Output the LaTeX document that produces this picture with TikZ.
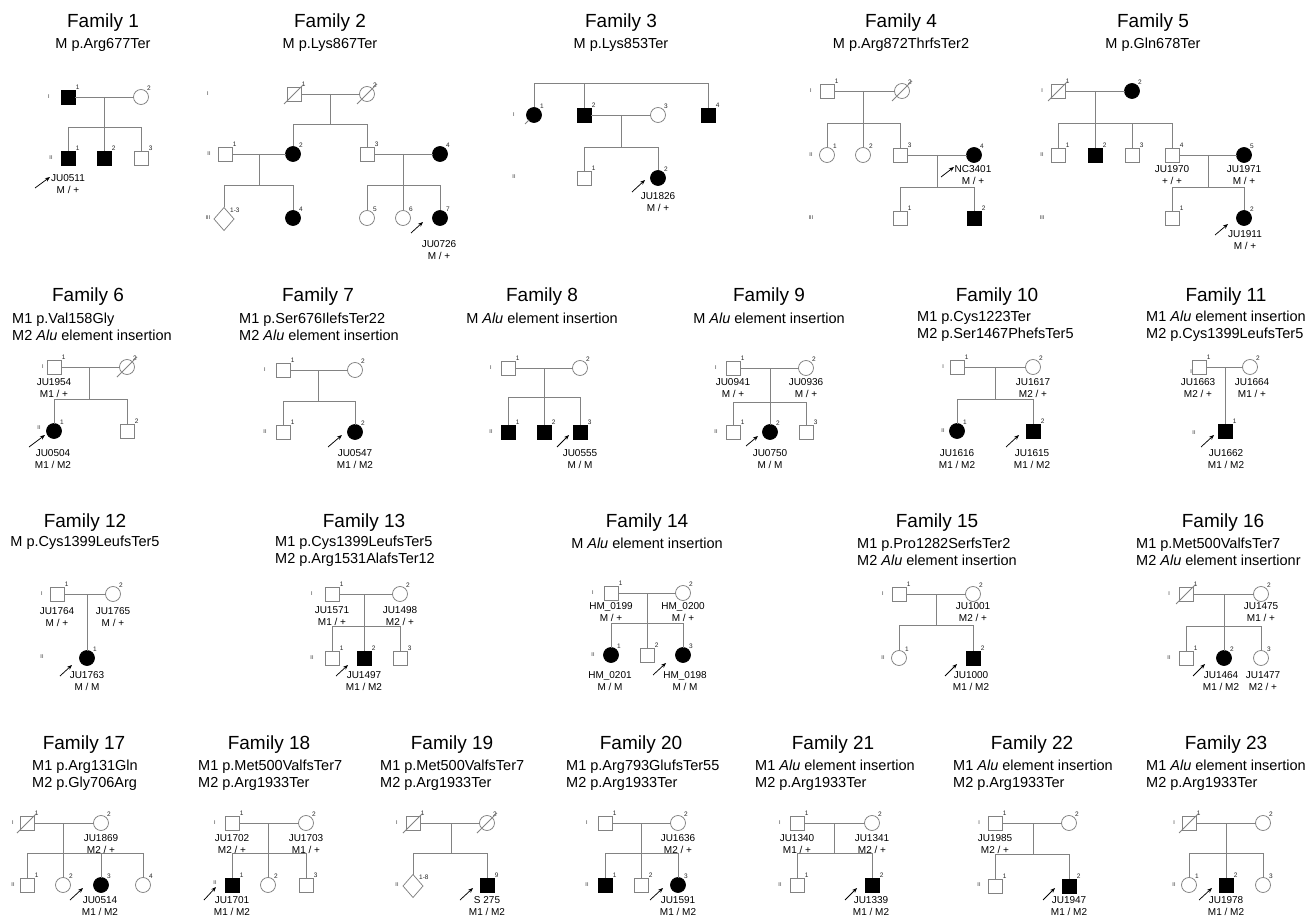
\documentclass[tikz,border=0pt]{standalone}
\usepackage{fontspec}
\setmainfont{Liberation Sans}
\usetikzlibrary{shapes.geometric,arrows.meta}
\definecolor{lc}{RGB}{130,130,130}
\newcommand{\deceased}[1]{\draw[ln] (#1.center) ++(-10,10) -- ++(20,-20);}
\tikzset{
  ln/.style={draw=lc, line width=0.75pt},
  base/.style={line width=0.75pt, inner sep=0pt, outer sep=0pt},
  so/.style={base, rectangle, draw=lc, fill=white, minimum size=14pt},
  sf/.style={base, rectangle, draw=black, fill=black, minimum size=14pt},
  co/.style={base, circle, draw=lc, fill=white, minimum size=15pt},
  cf/.style={base, circle, draw=black, fill=black, minimum size=15pt},
  dm/.style={base, diamond, draw=lc, fill=white, minimum width=20pt, minimum height=23pt},
  nl/.style={font=\fontsize{6.5}{7}\selectfont, inner sep=0.6pt, text=black!85},
  nb/.style={label={[nl]above right:#1}},
  gl/.style={font=\fontsize{5.5}{6}\selectfont, inner sep=0pt, text=black!80},
  ttl/.style={font=\fontsize{19}{21}\selectfont, inner sep=0pt},
  sub/.style={font=\fontsize{14.5}{17}\selectfont, inner sep=0pt},
  subl/.style={sub, align=left, anchor=west},
  idt/.style={font=\fontsize{10}{12}\selectfont, align=center, inner sep=0pt},
  prb/.style={draw=black, line width=0.75pt, -{Stealth[length=5pt,width=4pt]}},
}
\begin{document}
\begin{tikzpicture}[x=1pt,y=-1pt]
\fill[white] (0,0) rectangle (1316,917);
\useasboundingbox (0,0) rectangle (1316,917);

% ================= Family 1
\node[ttl] (t1) at (103,23) {Family 1};
\node[sub] (s1) at (103,45) {M p.Arg677Ter};
\node[gl] (g1a) at (49,97) {I};
\node[gl] (g1b) at (51,158) {II};
\node[sf,nb=1] (p1a) at (68,97) {};
\node[co,nb=2] (p1b) at (141,97) {};
\coordinate (m1) at (104,97); \coordinate (k1) at (104,127);
\node[sf,nb=1] (p1c) at (68,158) {};
\node[sf,nb=2] (p1d) at (104,158) {};
\node[so,nb=3] (p1e) at (141,158) {};
\draw[ln] (p1a) -- (p1b);
\draw[ln] (m1) -- (k1);
\draw[ln] (p1c) -- (p1c |- k1) -- (p1e |- k1) -- (p1e);
\draw[ln] (p1d) -- (k1);
\coordinate (a1s) at (35,188); \coordinate (a1e) at (50,177);
\draw[prb] (a1s) -- (a1e);
\node[idt] (i1) at (68,184) {JU0511\\M / +};

% ================= Family 2
\node[ttl] (t2) at (330,23) {Family 2};
\node[sub] (s2) at (330,45) {M p.Lys867Ter};
\node[gl] (g2a) at (208,94) {I};
\node[gl] (g2b) at (209,154) {II};
\node[gl] (g2c) at (208,218) {III};
\node[so,nb=1] (p2a) at (294,94) {};
\node[co,nb=2] (p2b) at (367,94) {};
\coordinate (m2a) at (330,94); \coordinate (k2a) at (330,124);
\node[so,nb=1] (p2c) at (225,154) {};
\node[cf,nb=2] (p2d) at (293,154) {};
\node[so,nb=3] (p2e) at (367,154) {};
\node[cf,nb=4] (p2f) at (440,154) {};
\coordinate (m2b) at (259,154); \coordinate (k2b) at (259,185);
\coordinate (m2c) at (403,154); \coordinate (k2c) at (403,185);
\node[dm,nb=1-3] (p2g) at (224,219) {};
\node[cf,nb=4] (p2h) at (293,218) {};
\node[co,nb=5] (p2i) at (367,218) {};
\node[co,nb=6] (p2j) at (403,218) {};
\node[cf,nb=7] (p2k) at (440,218) {};
\draw[ln] (p2a) -- (p2b);
\draw[ln] (m2a) -- (k2a);
\draw[ln] (p2d) -- (p2d |- k2a) -- (p2e |- k2a) -- (p2e);
\draw[ln] (p2c) -- (p2d);
\draw[ln] (m2b) -- (k2b);
\draw[ln] (p2g) -- (p2g |- k2b) -- (p2h |- k2b) -- (p2h);
\draw[ln] (p2e) -- (p2f);
\draw[ln] (m2c) -- (k2c);
\draw[ln] (p2i) -- (p2i |- k2c) -- (p2k |- k2c) -- (p2k);
\draw[ln] (p2j) -- (k2c);
\deceased{p2a}
\deceased{p2b}
\coordinate (a2s) at (411,233); \coordinate (a2e) at (423,222);
\draw[prb] (a2s) -- (a2e);
\node[idt] (i2) at (439,250) {JU0726\\M / +};

% ================= Family 3
\node[ttl] (t3) at (621,23) {Family 3};
\node[sub] (s3) at (621,45) {M p.Lys853Ter};
\node[gl] (g3a) at (514,115) {I};
\node[gl] (g3b) at (514,177) {II};
\node[cf,nb=1] (p3a) at (534,115) {};
\node[sf,nb=2] (p3b) at (584,115) {};
\node[co,nb=3] (p3c) at (658,115) {};
\node[sf,nb=4] (p3d) at (708,115) {};
\coordinate (k3) at (584,83);
\coordinate (m3) at (621,115); \coordinate (k3b) at (621,147);
\node[so,nb=1] (p3e) at (584,178) {};
\node[cf,nb=2] (p3f) at (658,178) {};
\draw[ln] (p3a) -- (p3a |- k3) -- (p3d |- k3) -- (p3d);
\draw[ln] (p3b) -- (k3);
\draw[ln] (p3b) -- (p3c);
\draw[ln] (m3) -- (k3b);
\draw[ln] (p3e) -- (p3e |- k3b) -- (p3f |- k3b) -- (p3f);
\draw[ln] (p3a.center) ++(-9,9) -- ++(4,-4);
\coordinate (a3s) at (632,192); \coordinate (a3e) at (645,180);
\draw[prb] (a3s) -- (a3e);
\node[idt] (i3) at (658,202) {JU1826\\M / +};

% ================= Family 4
\node[ttl] (t4) at (901,23) {Family 4};
\node[sub] (s4) at (901,45) {M p.Arg872ThrfsTer2};
\node[gl] (g4a) at (811,91) {I};
\node[gl] (g4b) at (811,155) {II};
\node[gl] (g4c) at (811,218) {III};
\node[so,nb=1] (p4a) at (827,91) {};
\node[co,nb=2] (p4b) at (902,91) {};
\coordinate (m4a) at (863,91); \coordinate (k4a) at (863,123);
\node[co,nb=1] (p4c) at (827,155) {};
\node[co,nb=2] (p4d) at (863,155) {};
\node[so,nb=3] (p4e) at (900,155) {};
\node[cf,nb=4] (p4f) at (974,155) {};
\coordinate (m4b) at (937,155); \coordinate (k4b) at (937,187);
\node[so,nb=1] (p4g) at (900,218) {};
\node[sf,nb=2] (p4h) at (974,218) {};
\draw[ln] (p4a) -- (p4b);
\draw[ln] (m4a) -- (k4a);
\draw[ln] (p4c) -- (p4c |- k4a) -- (p4e |- k4a) -- (p4e);
\draw[ln] (p4d) -- (k4a);
\draw[ln] (p4e) -- (p4f);
\draw[ln] (m4b) -- (k4b);
\draw[ln] (p4g) -- (p4g |- k4b) -- (p4h |- k4b) -- (p4h);
\deceased{p4b}
\coordinate (a4s) at (941,177); \coordinate (a4e) at (954,167);
\draw[prb] (a4s) -- (a4e);
\node[idt] (i4) at (973,175) {NC3401\\M / +};

% ================= Family 5
\node[ttl] (t5) at (1153,23) {Family 5};
\node[sub] (s5) at (1153,45) {M p.Gln678Ter};
\node[gl] (g5a) at (1042,91) {I};
\node[gl] (g5b) at (1042,155) {II};
\node[gl] (g5c) at (1042,218) {III};
\node[so,nb=1] (p5a) at (1058,91) {};
\node[cf,nb=2] (p5b) at (1132,91) {};
\coordinate (m5a) at (1095,91); \coordinate (k5a) at (1095,123);
\node[so,nb=1] (p5c) at (1058,155) {};
\node[sf,nb=2] (p5d) at (1095,155) {};
\node[so,nb=3] (p5e) at (1132,155) {};
\node[so,nb=4] (p5f) at (1172,155) {};
\node[cf,nb=5] (p5g) at (1244,155) {};
\coordinate (m5b) at (1208,155); \coordinate (k5b) at (1208,187);
\node[so,nb=1] (p5h) at (1172,218) {};
\node[cf,nb=2] (p5i) at (1244,218) {};
\draw[ln] (p5a) -- (p5b);
\draw[ln] (m5a) -- (k5a);
\draw[ln] (p5c) -- (p5c |- k5a) -- (p5f |- k5a) -- (p5f);
\draw[ln] (p5d) -- (k5a);
\draw[ln] (p5e) -- (p5e |- k5a);
\draw[ln] (p5f) -- (p5g);
\draw[ln] (m5b) -- (k5b);
\draw[ln] (p5h) -- (p5h |- k5b) -- (p5i |- k5b) -- (p5i);
\deceased{p5a}
\node[idt] (i5a) at (1172,175) {JU1970\\+ / +};
\node[idt] (i5b) at (1244,175) {JU1971\\M / +};
\coordinate (a5s) at (1215,235); \coordinate (a5e) at (1228,224);
\draw[prb] (a5s) -- (a5e);
\node[idt] (i5c) at (1245,240) {JU1911\\M / +};

% ================= Family 6
\node[ttl] (t6) at (88,297) {Family 6};
\node[subl] (s6) at (12,326.5) {M1 p.Val158Gly\\M2 \textit{Alu} element insertion};
\node[gl] (g6a) at (43,367) {I};
\node[gl] (g6b) at (39,428) {II};
\node[so,nb=1] (p6a) at (54,367) {};
\node[co,nb=2] (p6b) at (127,367) {};
\coordinate (m6) at (89,367); \coordinate (k6) at (89,399);
\node[cf,nb=1] (p6c) at (54,431) {};
\node[so,nb=2] (p6d) at (127,431) {};
\draw[ln] (p6a) -- (p6b);
\draw[ln] (m6) -- (k6);
\draw[ln] (p6c) -- (p6c |- k6) -- (p6d |- k6) -- (p6d);
\deceased{p6b}
\node[idt] (i6a) at (54,388) {JU1954\\M1 / +};
\coordinate (a6s) at (29,447); \coordinate (a6e) at (45,435);
\draw[prb] (a6s) -- (a6e);
\node[idt] (i6b) at (53,459) {JU0504\\M1 / M2};

% ================= Family 7
\node[ttl] (t7) at (318,297) {Family 7};
\node[subl] (s7) at (239,326.5) {M1 p.Ser676IlefsTer22\\M2 \textit{Alu} element insertion};
\node[gl] (g7a) at (265,370) {I};
\node[gl] (g7b) at (265,432) {II};
\node[so,nb=1] (p7a) at (283,370) {};
\node[co,nb=2] (p7b) at (355,370) {};
\coordinate (m7) at (318,370); \coordinate (k7) at (318,401);
\node[so,nb=1] (p7c) at (283,432) {};
\node[cf,nb=2] (p7d) at (355,432) {};
\draw[ln] (p7a) -- (p7b);
\draw[ln] (m7) -- (k7);
\draw[ln] (p7c) -- (p7c |- k7) -- (p7d |- k7) -- (p7d);
\coordinate (a7s) at (328,447); \coordinate (a7e) at (342,435);
\draw[prb] (a7s) -- (a7e);
\node[idt] (i7) at (355,459) {JU0547\\M1 / M2};

% ================= Family 8
\node[ttl] (t8) at (542,297) {Family 8};
\node[sub] (s8) at (542,318) {M \textit{Alu} element insertion};
\node[gl] (g8a) at (491,368) {I};
\node[gl] (g8b) at (491,432) {II};
\node[so,nb=1] (p8a) at (508,368) {};
\node[co,nb=2] (p8b) at (580,368) {};
\coordinate (m8) at (544,368); \coordinate (k8) at (544,397);
\node[sf,nb=1] (p8c) at (508,432) {};
\node[sf,nb=2] (p8d) at (544,432) {};
\node[sf,nb=3] (p8e) at (580,432) {};
\draw[ln] (p8a) -- (p8b);
\draw[ln] (m8) -- (k8);
\draw[ln] (p8c) -- (p8c |- k8) -- (p8e |- k8) -- (p8e);
\draw[ln] (p8d) -- (k8);
\coordinate (a8s) at (557,447); \coordinate (a8e) at (569,435);
\draw[prb] (a8s) -- (a8e);
\node[idt] (i8) at (580,459) {JU0555\\M / M};

% ================= Family 9
\node[ttl] (t9) at (769,297) {Family 9};
\node[sub] (s9) at (769,318) {M \textit{Alu} element insertion};
\node[gl] (g9a) at (716,368) {I};
\node[gl] (g9b) at (716,432) {II};
\node[so,nb=1] (p9a) at (733,368) {};
\node[co,nb=2] (p9b) at (806,368) {};
\coordinate (m9) at (770,368); \coordinate (k9) at (770,402);
\node[so,nb=1] (p9c) at (733,432) {};
\node[cf,nb=2] (p9d) at (770,432) {};
\node[so,nb=3] (p9e) at (806,432) {};
\draw[ln] (p9a) -- (p9b);
\draw[ln] (m9) -- (k9);
\draw[ln] (p9c) -- (p9c |- k9) -- (p9e |- k9) -- (p9e);
\draw[ln] (p9d) -- (k9);
\node[idt] (i9a) at (733,388) {JU0941\\M / +};
\node[idt] (i9b) at (806,388) {JU0936\\M / +};
\coordinate (a9s) at (746,446); \coordinate (a9e) at (758,436);
\draw[prb] (a9s) -- (a9e);
\node[idt] (i9c) at (770,459) {JU0750\\M / M};

% ================= Family 10
\node[ttl] (t10) at (997,297) {Family 10};
\node[subl] (s10) at (917,326.5) {M1 p.Cys1223Ter\\M2 p.Ser1467PhefsTer5};
\node[gl] (g10a) at (943,367) {I};
\node[gl] (g10b) at (943,431) {II};
\node[so,nb=1] (p10a) at (957,367) {};
\node[co,nb=2] (p10b) at (1033,367) {};
\coordinate (m10) at (995,367); \coordinate (k10) at (995,399);
\node[cf,nb=1] (p10c) at (957,431) {};
\node[sf,nb=2] (p10d) at (1033,431) {};
\draw[ln] (p10a) -- (p10b);
\draw[ln] (m10) -- (k10);
\draw[ln] (p10c) -- (p10c |- k10) -- (p10d |- k10) -- (p10d);
\node[idt] (i10a) at (1033,388) {JU1617\\M2 / +};
\coordinate (a10s) at (1006,447); \coordinate (a10e) at (1019,435);
\draw[prb] (a10s) -- (a10e);
\node[idt] (i10b) at (957,459) {JU1616\\M1 / M2};
\node[idt] (i10c) at (1032,459) {JU1615\\M1 / M2};

% ================= Family 11
\node[ttl] (t11) at (1226,297) {Family 11};
\node[subl] (s11) at (1146,326.5) {M1 \textit{Alu} element insertion\\M2 p.Cys1399LeufsTer5};
\node[gl] (g11a) at (1191,372) {I};
\node[gl] (g11b) at (1194,433) {II};
\node[so,nb=1] (p11a) at (1199,367) {};
\node[co,nb=2] (p11b) at (1250,367) {};
\coordinate (m11) at (1225,367);
\node[sf,nb=1] (p11c) at (1225,431) {};
\draw[ln] (p11a) -- (p11b);
\draw[ln] (m11) -- (p11c);
\node[idt] (i11a) at (1198,388) {JU1663\\M2 / +};
\node[idt] (i11b) at (1252,388) {JU1664\\M1 / +};
\coordinate (a11s) at (1201,447); \coordinate (a11e) at (1214,435);
\draw[prb] (a11s) -- (a11e);
\node[idt] (i11c) at (1226,459) {JU1662\\M1 / M2};

% ================= Family 12
\node[ttl] (t12) at (85,523) {Family 12};
\node[sub] (s12) at (85,543) {M p.Cys1399LeufsTer5};
\node[gl] (g12a) at (42,594) {I};
\node[gl] (g12b) at (42,657) {II};
\node[so,nb=1] (p12a) at (57,594) {};
\node[co,nb=2] (p12b) at (113,594) {};
\coordinate (m12) at (87,594);
\node[cf,nb=1] (p12c) at (87,658) {};
\draw[ln] (p12a) -- (p12b);
\draw[ln] (m12) -- (p12c);
\node[idt] (i12a) at (57,617) {JU1764\\M / +};
\node[idt] (i12b) at (113,617) {JU1765\\M / +};
\coordinate (a12s) at (60,676); \coordinate (a12e) at (72,665);
\draw[prb] (a12s) -- (a12e);
\node[idt] (i12c) at (87,681) {JU1763\\M / M};

% ================= Family 13
\node[ttl] (t13) at (364,523) {Family 13};
\node[subl] (s13) at (275,551.5) {M1 p.Cys1399LeufsTer5\\M2 p.Arg1531AlafsTer12};
\node[gl] (g13a) at (312,594) {I};
\node[gl] (g13b) at (312,658) {II};
\node[so,nb=1] (p13a) at (332,594) {};
\node[co,nb=2] (p13b) at (400,594) {};
\coordinate (m13) at (364,594); \coordinate (k13) at (364,626);
\node[so,nb=1] (p13c) at (332,658) {};
\node[sf,nb=2] (p13d) at (364,658) {};
\node[so,nb=3] (p13e) at (400,658) {};
\draw[ln] (p13a) -- (p13b);
\draw[ln] (m13) -- (p13d);
\draw[ln] (p13c) -- (p13c |- k13) -- (p13e |- k13) -- (p13e);
\node[idt] (i13a) at (332,616) {JU1571\\M1 / +};
\node[idt] (i13b) at (400,616) {JU1498\\M2 / +};
\coordinate (a13s) at (336,676); \coordinate (a13e) at (348,665);
\draw[prb] (a13s) -- (a13e);
\node[idt] (i13c) at (364,681) {JU1497\\M1 / M2};

% ================= Family 14
\node[ttl] (t14) at (647,523) {Family 14};
\node[sub] (s14) at (647,543) {M \textit{Alu} element insertion};
\node[gl] (g14a) at (593,593) {I};
\node[gl] (g14b) at (593,655) {II};
\node[so,nb=1] (p14a) at (611,593) {};
\node[co,nb=2] (p14b) at (683,593) {};
\coordinate (m14) at (647,593); \coordinate (k14) at (647,623);
\node[cf,nb=1] (p14c) at (611,655) {};
\node[so,nb=2] (p14d) at (647,655) {};
\node[cf,nb=3] (p14e) at (683,655) {};
\draw[ln] (p14a) -- (p14b);
\draw[ln] (m14) -- (p14d);
\draw[ln] (p14c) -- (p14c |- k14) -- (p14e |- k14) -- (p14e);
\node[idt] (i14a) at (611,612) {HM\_0199\\M / +};
\node[idt] (i14b) at (683,612) {HM\_0200\\M / +};
\coordinate (a14s) at (653,675); \coordinate (a14e) at (666,663);
\draw[prb] (a14s) -- (a14e);
\node[idt] (i14c) at (610,681) {HM\_0201\\M / M};
\node[idt] (i14d) at (685,681) {HM\_0198\\M / M};

% ================= Family 15
\node[ttl] (t15) at (937,523) {Family 15};
\node[subl] (s15) at (857,551.5) {M1 p.Pro1282SerfsTer2\\M2 \textit{Alu} element insertion};
\node[gl] (g15a) at (883,594) {I};
\node[gl] (g15b) at (883,658) {II};
\node[so,nb=1] (p15a) at (899,594) {};
\node[co,nb=2] (p15b) at (973,594) {};
\coordinate (m15) at (936,594); \coordinate (k15) at (936,625);
\node[co,nb=1] (p15c) at (899,658) {};
\node[sf,nb=2] (p15d) at (973,658) {};
\draw[ln] (p15a) -- (p15b);
\draw[ln] (m15) -- (k15);
\draw[ln] (p15c) -- (p15c |- k15) -- (p15d |- k15) -- (p15d);
\node[idt] (i15a) at (973,612) {JU1001\\M2 / +};
\coordinate (a15s) at (945,676); \coordinate (a15e) at (957,664);
\draw[prb] (a15s) -- (a15e);
\node[idt] (i15b) at (971,681) {JU1000\\M1 / M2};

% ================= Family 16
\node[ttl] (t16) at (1223,523) {Family 16};
\node[subl] (s16) at (1136,551.5) {M1 p.Met500ValfsTer7\\M2 \textit{Alu} element insertionr};
\node[gl] (g16a) at (1169,594) {I};
\node[gl] (g16b) at (1169,658) {II};
\node[so,nb=1] (p16a) at (1186,594) {};
\node[co,nb=2] (p16b) at (1261,594) {};
\coordinate (m16) at (1224,594); \coordinate (k16) at (1224,626);
\node[so,nb=1] (p16c) at (1186,658) {};
\node[cf,nb=2] (p16d) at (1224,658) {};
\node[co,nb=3] (p16e) at (1261,658) {};
\draw[ln] (p16a) -- (p16b);
\draw[ln] (m16) -- (p16d);
\draw[ln] (p16c) -- (p16c |- k16) -- (p16e |- k16) -- (p16e);
\deceased{p16a}
\node[idt] (i16a) at (1261,612) {JU1475\\M1 / +};
\coordinate (a16s) at (1193,676); \coordinate (a16e) at (1205,664);
\draw[prb] (a16s) -- (a16e);
\node[idt] (i16b) at (1221,681) {JU1464\\M1 / M2};
\node[idt] (i16c) at (1263,681) {JU1477\\M2 / +};

% ================= Family 17
\node[ttl] (t17) at (84,745) {Family 17};
\node[subl] (s17) at (32,775.5) {M1 p.Arg131Gln\\M2 p.Gly706Arg};
\node[gl] (g17a) at (13,823) {I};
\node[gl] (g17b) at (13,885) {II};
\node[so,nb=1] (p17a) at (27,823) {};
\node[co,nb=2] (p17b) at (101,823) {};
\coordinate (m17) at (63,823); \coordinate (k17) at (63,853);
\node[so,nb=1] (p17c) at (27,885) {};
\node[co,nb=2] (p17d) at (63,885) {};
\node[cf,nb=3] (p17e) at (101,885) {};
\node[co,nb=4] (p17f) at (143,885) {};
\draw[ln] (p17a) -- (p17b);
\draw[ln] (m17) -- (p17d);
\draw[ln] (p17c) -- (p17c |- k17) -- (p17f |- k17) -- (p17f);
\draw[ln] (p17e) -- (p17e |- k17);
\deceased{p17a}
\node[idt] (i17a) at (101,844) {JU1869\\M2 / +};
\coordinate (a17s) at (70,900); \coordinate (a17e) at (83,888);
\draw[prb] (a17s) -- (a17e);
\node[idt] (i17b) at (100,906) {JU0514\\M1 / M2};

% ================= Family 18
\node[ttl] (t18) at (269,745) {Family 18};
\node[subl] (s18) at (198,775.5) {M1 p.Met500ValfsTer7\\M2 p.Arg1933Ter};
\node[gl] (g18a) at (215,823) {I};
\node[gl] (g18b) at (215,883) {II};
\node[so,nb=1] (p18a) at (232,823) {};
\node[co,nb=2] (p18b) at (306,823) {};
\coordinate (m18) at (268,823); \coordinate (k18) at (268,853);
\node[sf,nb=1] (p18c) at (232,885) {};
\node[co,nb=2] (p18d) at (268,885) {};
\node[so,nb=3] (p18e) at (306,885) {};
\draw[ln] (p18a) -- (p18b);
\draw[ln] (m18) -- (p18d);
\draw[ln] (p18c) -- (p18c |- k18) -- (p18e |- k18) -- (p18e);
\node[idt] (i18a) at (232,844) {JU1702\\M2 / +};
\node[idt] (i18b) at (306,844) {JU1703\\M1 / +};
\coordinate (a18s) at (204,900); \coordinate (a18e) at (216,887);
\draw[prb] (a18s) -- (a18e);
\node[idt] (i18c) at (232,906) {JU1701\\M1 / M2};

% ================= Family 19
\node[ttl] (t19) at (452,745) {Family 19};
\node[subl] (s19) at (380,775.5) {M1 p.Met500ValfsTer7\\M2 p.Arg1933Ter};
\node[gl] (g19a) at (397,823) {I};
\node[gl] (g19b) at (397,885) {II};
\node[so,nb=1] (p19a) at (413,823) {};
\node[co,nb=2] (p19b) at (487,823) {};
\coordinate (m19) at (451,823); \coordinate (k19) at (451,853);
\node[dm,nb=1-8] (p19c) at (413,886) {};
\node[sf,nb=9] (p19d) at (487,885) {};
\draw[ln] (p19a) -- (p19b);
\draw[ln] (m19) -- (k19);
\draw[ln] (p19c) -- (p19c |- k19) -- (p19d |- k19) -- (p19d);
\deceased{p19a}
\deceased{p19b}
\coordinate (a19s) at (460,900); \coordinate (a19e) at (473,888);
\draw[prb] (a19s) -- (a19e);
\node[idt] (i19) at (487,906) {S 275\\M1 / M2};

% ================= Family 20
\node[ttl] (t20) at (641,745) {Family 20};
\node[subl] (s20) at (566,775.5) {M1 p.Arg793GlufsTer55\\M2 p.Arg1933Ter};
\node[gl] (g20a) at (587,823) {I};
\node[gl] (g20b) at (587,885) {II};
\node[so,nb=1] (p20a) at (605,823) {};
\node[co,nb=2] (p20b) at (678,823) {};
\coordinate (m20) at (641,823); \coordinate (k20) at (641,853);
\node[sf,nb=1] (p20c) at (605,885) {};
\node[so,nb=2] (p20d) at (641,885) {};
\node[cf,nb=3] (p20e) at (678,885) {};
\draw[ln] (p20a) -- (p20b);
\draw[ln] (m20) -- (p20d);
\draw[ln] (p20c) -- (p20c |- k20) -- (p20e |- k20) -- (p20e);
\node[idt] (i20a) at (678,844) {JU1636\\M2 / +};
\coordinate (a20s) at (650,900); \coordinate (a20e) at (663,888);
\draw[prb] (a20s) -- (a20e);
\node[idt] (i20b) at (678,906) {JU1591\\M1 / M2};

% ================= Family 21
\node[ttl] (t21) at (833,745) {Family 21};
\node[subl] (s21) at (755,775.5) {M1 \textit{Alu} element insertion\\M2 p.Arg1933Ter};
\node[gl] (g21a) at (780,823) {I};
\node[gl] (g21b) at (780,885) {II};
\node[so,nb=1] (p21a) at (797,823) {};
\node[co,nb=2] (p21b) at (872,823) {};
\coordinate (m21) at (834,823); \coordinate (k21) at (834,853);
\node[so,nb=1] (p21c) at (797,885) {};
\node[sf,nb=2] (p21d) at (872,885) {};
\draw[ln] (p21a) -- (p21b);
\draw[ln] (m21) -- (k21);
\draw[ln] (p21c) -- (p21c |- k21) -- (p21d |- k21) -- (p21d);
\node[idt] (i21a) at (797,844) {JU1340\\M1 / +};
\node[idt] (i21b) at (872,844) {JU1341\\M2 / +};
\coordinate (a21s) at (845,900); \coordinate (a21e) at (857,888);
\draw[prb] (a21s) -- (a21e);
\node[idt] (i21c) at (871,906) {JU1339\\M1 / M2};

% ================= Family 22
\node[ttl] (t22) at (1032,745) {Family 22};
\node[subl] (s22) at (953,775.5) {M1 \textit{Alu} element insertion\\M2 p.Arg1933Ter};
\node[gl] (g22a) at (979,823) {I};
\node[gl] (g22b) at (979,885) {II};
\node[so,nb=1] (p22a) at (995,823) {};
\node[co,nb=2] (p22b) at (1069,823) {};
\coordinate (m22) at (1033,823); \coordinate (k22) at (1033,854);
\node[so,nb=1] (p22c) at (995,886) {};
\node[sf,nb=2] (p22d) at (1069,886) {};
\draw[ln] (p22a) -- (p22b);
\draw[ln] (m22) -- (k22);
\draw[ln] (p22c) -- (p22c |- k22) -- (p22d |- k22) -- (p22d);
\node[idt] (i22a) at (995,844) {JU1985\\M2 / +};
\coordinate (a22s) at (1043,900); \coordinate (a22e) at (1055,888);
\draw[prb] (a22s) -- (a22e);
\node[idt] (i22b) at (1069,906) {JU1947\\M1 / M2};

% ================= Family 23
\node[ttl] (t23) at (1226,745) {Family 23};
\node[subl] (s23) at (1146,775.5) {M1 \textit{Alu} element insertion\\M2 p.Arg1933Ter};
\node[gl] (g23a) at (1174,823) {I};
\node[gl] (g23b) at (1174,885) {II};
\node[so,nb=1] (p23a) at (1189,823) {};
\node[co,nb=2] (p23b) at (1263,823) {};
\coordinate (m23) at (1226,823); \coordinate (k23) at (1226,853);
\node[co,nb=1] (p23c) at (1189,885) {};
\node[sf,nb=2] (p23d) at (1226,885) {};
\node[co,nb=3] (p23e) at (1263,885) {};
\draw[ln] (p23a) -- (p23b);
\draw[ln] (m23) -- (p23d);
\draw[ln] (p23c) -- (p23c |- k23) -- (p23e |- k23) -- (p23e);
\deceased{p23a}
\coordinate (a23s) at (1199,900); \coordinate (a23e) at (1212,888);
\draw[prb] (a23s) -- (a23e);
\node[idt] (i23) at (1226,906) {JU1978\\M1 / M2};
\end{tikzpicture}
\end{document}
